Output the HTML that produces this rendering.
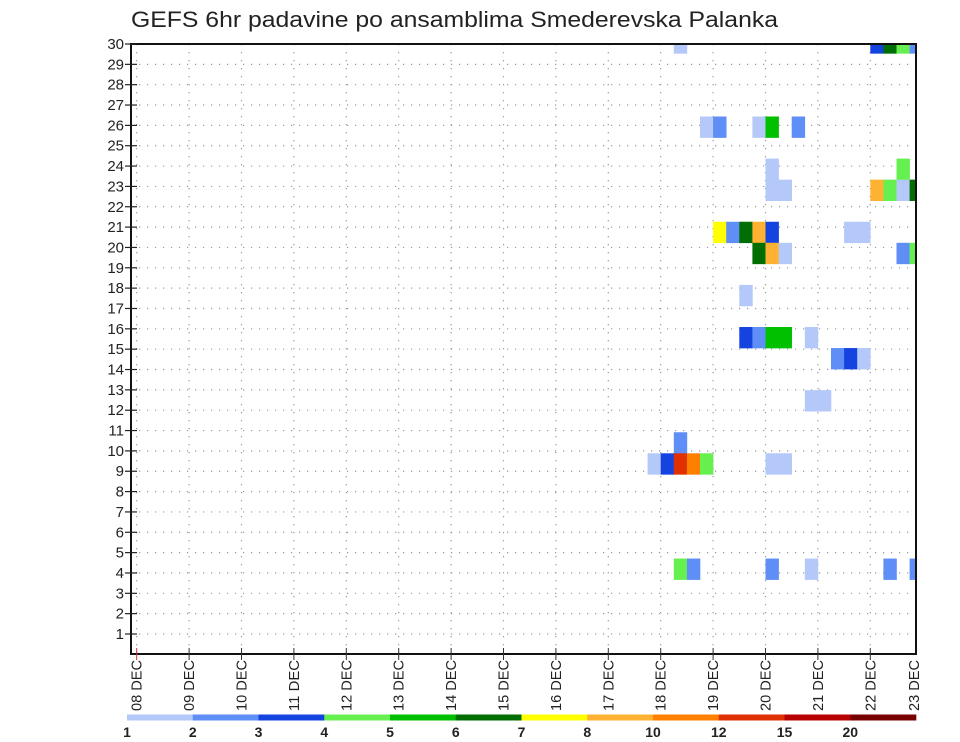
<!DOCTYPE html>
<html><head><meta charset="utf-8"><style>
html,body{margin:0;padding:0;background:#fff;}
svg{display:block;font-family:"Liberation Sans",sans-serif;}
</style></head><body>
<svg id="chart" width="960" height="742" viewBox="0 0 960 742" xmlns="http://www.w3.org/2000/svg">
<defs><clipPath id="plotclip"><rect x="131" y="44" width="785" height="610"/></clipPath></defs>
<text x="131" y="27" font-size="22" fill="#222" textLength="647" lengthAdjust="spacingAndGlyphs">GEFS 6hr padavine po ansamblima Smederevska Palanka</text>
<g id="grid"></g>
<g id="cells" clip-path="url(#plotclip)"></g>
<rect x="131" y="44" width="785" height="610" fill="none" stroke="#111" stroke-width="2"/>
<g id="yaxis"></g>
<g id="xaxis"></g>
<g id="legend"></g>
</svg>
<script>
const cellMember = [30,30,30,30,30, 26,26,26,26,26, 24,24, 23,23,23,23,23,23, 21,21,21,21,21,21,21, 20,20,20,20,20, 18, 16,16,16,16,16, 15,15,15, 13,13, 11, 10,10,10,10,10,10,10, 5,5,5,5,5,5];
const cellSlot   = [41,56,57,58,59, 43,44,47,48,50, 48,58, 48,49,56,57,58,59, 44,45,46,47,48,54,55, 47,48,49,58,59, 46, 46,47,48,49,51, 53,54,55, 51,52, 41, 39,40,41,42,43,48,49, 41,42,48,51,57,59];
const cellValue  = [1.5,3.5,6.5,4.5,2.5, 1.5,2.5,1.5,5.5,2.5, 1.5,4.5, 1.5,1.5,9,4.5,1.5,6.5, 7.5,2.5,6.5,9,3.5,1.5,1.5, 6.5,9,1.5,2.5,4.5, 1.5, 3.5,2.5,5.5,5.5,1.5, 2.5,3.5,1.5, 1.5,1.5, 2.5, 1.5,3.5,13,11,4.5,1.5,1.5, 4.5,2.5,2.5,1.5,2.5,2.5];
const levels = [1,2,3,4,5,6,7,8,10,12,15,20];
const levelColors = ["#b4c8fa","#5f8ef6","#1443e0","#66f050","#00c000","#006e00","#ffff00","#ffb232","#ff8000","#e03000","#b80000","#780000"];
const dayLabels = ["08","09","10","11","12","13","14","15","16","17","18","19","20","21","22","23"];
const memberTicks = [1,2,3,4,5,6,7,8,9,10,11,12,13,14,15,16,17,18,19,20,21,22,23,24,25,26,27,28,29,30];

const NS="http://www.w3.org/2000/svg";
function mk(tag, attrs, parent){const e=document.createElementNS(NS,tag);for(const k in attrs)e.setAttribute(k,attrs[k]);parent.appendChild(e);return e;}
const X0=136.7, DAY=52.4, SLOT=DAY/4;
function xDay(i){return X0+i*DAY;}
function xSlot(s){return X0+s*SLOT;}
function yTick(m){return 44+(30-m)*20.345;}
const CELLH=21.05;
function yCellTop(m){return 32.3+(30-m)*CELLH;}
function colorFor(v){let c=levelColors[0];for(let i=0;i<levels.length;i++){if(v>=levels[i])c=levelColors[i];}return c;}

const grid=document.getElementById('grid');
memberTicks.forEach(m=>{
  const l=mk('line',{x1:131,x2:916,y1:yTick(m),y2:yTick(m),stroke:'#9a9a9a','stroke-width':1.2,'stroke-dasharray':'1.2 6.8'},grid);
  
  
});
dayLabels.forEach((d,i)=>{
  const x=xDay(i); if(x>915) return;
  const l=mk('line',{x1:x,x2:x,y1:44,y2:654,stroke:'#9a9a9a','stroke-width':1.2,'stroke-dasharray':'1.2 6.8'},grid);
  
  
});

const cells=document.getElementById('cells');
cellMember.forEach((m,i)=>{
  const r=mk('rect',{x:xSlot(cellSlot[i]),y:yCellTop(m),width:SLOT+0.3,height:CELLH+0.3,fill:colorFor(cellValue[i])},cells);
  
  
});

const ya=document.getElementById('yaxis');
memberTicks.forEach(m=>{
  const y=yTick(m);
  const t=mk('line',{x1:125,x2:137,y1:y,y2:y,stroke:'#222','stroke-width':1.2},ya);
  
  
  const tx=mk('text',{x:124,y:y+5,'font-size':15,'text-anchor':'end',fill:'#222'},ya);
  tx.textContent=m;
  
  
});

const xa=document.getElementById('xaxis');
dayLabels.forEach((d,i)=>{
  let x=xDay(i);
  if(x<916){
    const t=mk('line',{x1:x,x2:x,y1:648,y2:660,stroke:i===0?'#c33':'#333','stroke-width':1},xa);
    
    
  } else x=914;
  const tx=mk('text',{transform:'translate('+(x+5)+',660) rotate(-90)','font-size':15,'text-anchor':'end',fill:'#222',textLength:51,lengthAdjust:'spacingAndGlyphs'},xa);
  tx.textContent=d+'  DEC';
  
  
});

const lg=document.getElementById('legend');
const LX=127, LW=65.75;
levels.forEach((lv,i)=>{
  const r=mk('rect',{x:LX+i*LW,y:714.5,width:LW+0.3,height:6,fill:levelColors[i]},lg);
  
  
  const t=mk('text',{x:LX+i*LW,y:737,'font-size':14,'font-weight':'bold','text-anchor':'middle',fill:'#222'},lg);
  t.textContent=lv;
  
  
});
</script>
</body></html>
